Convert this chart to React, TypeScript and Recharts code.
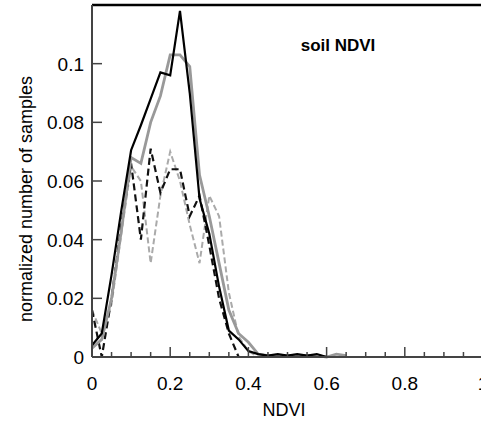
import React from 'react';
import { LineChart, Line, XAxis, YAxis, ReferenceLine } from 'recharts';

// NDVI bin centres
const ndvi = [
  0, 0.025, 0.05, 0.075, 0.1, 0.125, 0.15, 0.175, 0.2, 0.225, 0.25, 0.275, 0.3, 0.325,
  0.35, 0.375, 0.4, 0.425, 0.45, 0.475, 0.5, 0.525, 0.55, 0.575, 0.6, 0.625, 0.65,
];

const blackSolid = [
  0.004, 0.008, 0.028, 0.05, 0.0705, 0.079, 0.088, 0.097, 0.096, 0.118, 0.09, 0.054, 0.042, 0.024,
  0.009, 0.006, 0.002, 0.001, 0.0005, 0.001, 0.0005, 0.001, 0.0005, 0.001, 0, 0, 0,
];
const graySolid = [
  0.003, 0.006, 0.02, 0.043, 0.068, 0.066, 0.08, 0.089, 0.103, 0.103, 0.099, 0.062, 0.048, 0.032,
  0.016, 0.008, 0.005, 0.001, 0.0005, 0.0005, 0.0005, 0.0005, 0.0005, 0.0005, 0, 0.001, 0.0005,
];
const blackDashed = [
  0.016, 0, 0.02, 0.045, 0.066, 0.04, 0.071, 0.056, 0.064, 0.064, 0.048, 0.055, 0.038, 0.02,
  0.008, 0, 0, 0, 0, 0, 0, 0, 0, 0, 0, 0, 0,
];
const grayDashed = [
  0.016, 0.008, 0.018, 0.042, 0.065, 0.06, 0.032, 0.055, 0.07, 0.06, 0.045, 0.032, 0.055, 0.048,
  0.022, 0.007, 0.002, 0, 0, 0, 0, 0, 0, 0, 0, 0, 0,
];

const xTicks = [
  0, 0.05, 0.1, 0.15, 0.2, 0.25, 0.3, 0.35, 0.4, 0.45, 0.5, 0.55, 0.6, 0.65, 0.7, 0.75, 0.8,
  0.85, 0.9, 0.95, 1,
];
const yTicks = [0, 0.02, 0.04, 0.06, 0.08, 0.1];

const data = ndvi.map((x, i) => ({
  x,
  bs: blackSolid[i],
  gs: graySolid[i],
  bd: blackDashed[i],
  gd: grayDashed[i],
}));

const FONT = '"Liberation Sans", Arial, Helvetica, sans-serif';
const AXIS = '#444';

const fmt = (v: number) => String(Math.round(v * 100) / 100);

const XTick = (props: any) => {
  const { x, y, payload } = props;
  const v = payload.value;
  const major = Math.abs(v * 5 - Math.round(v * 5)) < 1e-6;
  return (
    <g>
      <line x1={x} x2={x} y1={y} y2={y - (major ? 10 : 5)} stroke={AXIS} strokeWidth={1.5} />
      {major && (
        <text x={x} y={y + 33} textAnchor="middle" fontSize={19} fill="#000" fontFamily={FONT}>
          {fmt(v)}
        </text>
      )}
    </g>
  );
};

const YTick = (props: any) => {
  const { x, y, payload } = props;
  return (
    <g>
      <line x1={x} x2={x + 10} y1={y} y2={y} stroke={AXIS} strokeWidth={1.5} />
      <text x={x - 8} y={y + 7} textAnchor="end" fontSize={19} fill="#000" fontFamily={FONT}>
        {fmt(payload.value)}
      </text>
    </g>
  );
};

export default function App() {
  return (
    <div
      style={{
        position: 'absolute',
        left: 0,
        top: 0,
        width: 481,
        height: 425,
        overflow: 'hidden',
        background: '#fff',
      }}
    >
      <LineChart width={500} height={425} data={data} margin={{ top: 5, right: 17, left: 0, bottom: 0 }}>
        <XAxis
          dataKey="x"
          type="number"
          domain={[0, 1]}
          ticks={xTicks}
          interval={0}
          tickSize={0}
          tickMargin={0}
          tickLine={false}
          tick={<XTick />}
          height={68}
          stroke={AXIS}
          strokeWidth={2}
        />
        <YAxis
          type="number"
          domain={[0, 0.12]}
          ticks={yTicks}
          interval={0}
          tickSize={0}
          tickMargin={0}
          tickLine={false}
          tick={<YTick />}
          width={92}
          stroke={AXIS}
          strokeWidth={2}
        />
        <ReferenceLine y={0.12} stroke="#000" strokeWidth={2.5} ifOverflow="visible" />
        <Line dataKey="gd" stroke="#aaa" strokeWidth={2} strokeDasharray="6 3" dot={false} isAnimationActive={false} />
        <Line dataKey="bd" stroke="#111" strokeWidth={2.2} strokeDasharray="7 4" dot={false} isAnimationActive={false} />
        <Line dataKey="gs" stroke="#999" strokeWidth={2.8} dot={false} isAnimationActive={false} />
        <Line dataKey="bs" stroke="#000" strokeWidth={2.2} dot={false} isAnimationActive={false} />
      </LineChart>
      <svg
        width={481}
        height={425}
        style={{ position: 'absolute', left: 0, top: 0, pointerEvents: 'none' }}
      >
        <text x={338} y={51} textAnchor="middle" fontSize={17} fontWeight="bold" fontFamily={FONT}>
          soil NDVI
        </text>
        <text x={284} y={416} textAnchor="middle" fontSize={18} fontFamily={FONT}>
          NDVI
        </text>
        <text
          x={32}
          y={199}
          textAnchor="middle"
          fontSize={18}
          fontFamily={FONT}
          transform="rotate(-90 32 199)"
        >
          normalized number of samples
        </text>
      </svg>
    </div>
  );
}
